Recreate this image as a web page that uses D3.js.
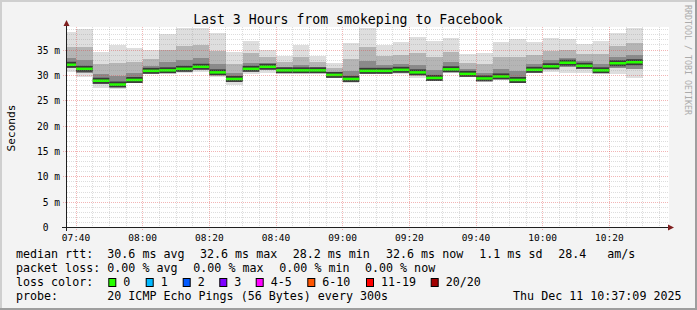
<!DOCTYPE html>
<html><head><meta charset="utf-8">
<script src="https://cdn.jsdelivr.net/npm/d3@7"></script>
<style>
html,body{margin:0;padding:0;background:#f3f3f3;}
svg{display:block;}
text{font-family:"DejaVu Sans Mono",monospace;white-space:pre;}
</style></head><body>
<svg id="chart" width="697" height="310"></svg>
<script>
// ---------- data ----------
const day = "2025-12-11";
const rangeStart = "07:37:09", rangeEnd = "10:37:09";
const binStarts = ["07:35","07:40","07:45","07:50","07:55","08:00","08:05","08:10","08:15","08:20",
  "08:25","08:30","08:35","08:40","08:45","08:50","08:55","09:00","09:05","09:10",
  "09:15","09:20","09:25","09:30","09:35","09:40","09:45","09:50","09:55","10:00",
  "10:05","10:10","10:15","10:20","10:25"];
const medianRtt = [32.1,31.3,28.95,28.2,29.1,30.9,31.0,31.3,31.7,30.6,
  29.3,31.3,31.7,31.0,31.0,31.0,30.1,29.3,30.9,30.9,
  31.1,30.6,29.5,31.2,30.3,29.4,29.8,29.1,31.1,31.8,
  32.5,31.9,31.0,32.4,32.6];
const smokeMax = [38.6,39.1,34.7,35.9,35.4,35.1,38.2,39.3,39.3,38.3,
  34.7,36.8,35.1,33.9,35.9,33.8,32.5,36.3,39.4,36.0,
  36.5,37.6,36.8,37.4,34.2,34.5,36.5,37.2,36.5,37.4,
  37.1,36.1,36.8,38.4,39.4];
const smokeUpper = [35.7,35.7,32.2,32.5,32.6,33.3,35.0,35.8,36.0,34.9,
  32.3,34.4,33.6,32.6,33.7,32.6,31.4,33.2,35.7,33.8,
  34.1,34.5,33.6,34.7,32.5,32.3,33.6,33.6,34.1,34.9,
  35.1,34.3,34.2,35.8,36.4];
const smokeInner = [33.5,33.0,30.2,29.9,30.5,31.8,32.6,33.1,33.4,32.3,
  30.5,32.5,32.4,31.6,32.1,31.6,30.6,30.8,32.8,32.0,
  32.3,32.1,31.1,32.6,31.2,30.5,31.3,30.9,32.3,33.0,
  33.5,32.8,32.3,33.7,34.1];
const smokeLower = [31.5,30.5,28.3,27.8,28.9,30.7,30.7,30.9,31.3,30.2,
  28.8,30.9,31.2,30.9,30.7,30.7,29.9,28.9,30.6,30.7,
  30.7,30.1,29.2,30.8,30.1,29.1,29.5,28.9,30.8,31.3,
  31.6,31.3,30.7,31.5,31.2];
const smokeMin = [30.7,29.6,27.5,27.3,28.6,30.4,30.4,30.4,30.7,29.6,
  28.1,30.3,30.5,30.7,30.4,30.4,29.6,28.5,30.3,30.4,
  30.3,29.5,28.8,30.4,29.8,28.8,29.1,28.6,30.5,30.7,
  30.5,30.5,30.4,30.3,29.4];
const yMax = 39.45;
const xTickLabels = ["07:40","08:00","08:20","08:40","09:00","09:20","09:40","10:00","10:20"];
const yTickValues = [0,5,10,15,20,25,30,35];
const yTickLabels = ["0  ","5 m","10 m","15 m","20 m","25 m","30 m","35 m"];
const titleText = "Last 3 Hours from smokeping to Facebook";
const yAxisTitle = "Seconds";
const rttLegend = [["median rtt:",16],["30.6 ms avg",107.3],["32.6 ms max",200],["28.2 ms min",292.7],["32.6 ms now",386],["1.1 ms sd",479.3],["28.4",558.3],["am/s",607.3]];
const lossLegend = [["packet loss:",16],["0.00 % avg",107.3],["0.00 % max",193.3],["0.00 % min",279.3],["0.00 % now",365]];
const lossLabels = ["0","1","2","3","4-5","6-10","11-19","20/20"];
const lossColors = ["#26ff00","#00b8ff","#0059ff","#7e00ff","#ff00ff","#ff5500","#ff0000","#a10000"];
const lossBoxX = [108.3,145.7,182.7,219.3,255.7,307.3,366,430.7];
const probeText = "20 ICMP Echo Pings (56 Bytes) every 300s";
const stampText = "Thu Dec 11 10:37:09 2025";
const watermark = "RRDTOOL / TOBI OETIKER";

// ---------- drawing ----------
const svg = d3.select("#chart");
const W = 697, H = 310;
const parse = d3.timeParse("%Y-%m-%d %H:%M:%S");
const pt = s => parse(day + " " + (s.length === 5 ? s + ":00" : s));
const x = d3.scaleTime().domain([pt(rangeStart), pt(rangeEnd)]).range([66.5, 666.5]);
const y = d3.scaleLinear().domain([0, yMax]).range([227.5, 27.5]);
const L = 67, R = 669, T = 27, B = 228;

svg.append("rect").attr("width", W).attr("height", H).attr("fill", "#f3f3f3");
// frame
svg.append("path").attr("d", `M0,0H${W}V2H2V${H}H0Z`).attr("fill", "#cfcfcf");
svg.append("path").attr("d", `M${W},0V${H}H0V${H-2}H${W-2}V0Z`).attr("fill", "#9e9e9e");

svg.append("rect").attr("x", L).attr("y", T).attr("width", R - L).attr("height", B - T).attr("fill", "#ffffff");

const defs = svg.append("defs");
defs.append("clipPath").attr("id", "plotclip").append("rect")
  .attr("x", L).attr("y", T - 3).attr("width", R - L).attr("height", B - T + 3);

const data = binStarts.map((s, i) => ({
  t0: pt(s), t1: d3.timeMinute.offset(pt(s), 5),
  med: medianRtt[i], max: smokeMax[i], up: smokeUpper[i], inn: smokeInner[i], lo: smokeLower[i], min: smokeMin[i]
}));

const gPlot = svg.append("g").attr("clip-path", "url(#plotclip)");
function band(cls, top, bot, color) {
  gPlot.selectAll("rect." + cls).data(data).join("rect").attr("class", cls)
    .attr("x", d => x(d.t0)).attr("width", d => x(d.t1) - x(d.t0))
    .attr("y", d => y(top(d))).attr("height", d => y(bot(d)) - y(top(d)))
    .attr("fill", color).attr("shape-rendering", "crispEdges");
}
band("s1", d => d.max, d => d.min, "#dedede");
band("s2", d => d.up, d => d.lo, "#b5b5b5");
band("s3", d => d.inn, d => d.lo, "#8a8a8a");
gPlot.selectAll("rect.core").data(data).join("rect").attr("class", "core")
  .attr("x", d => x(d.t0)).attr("width", d => x(d.t1) - x(d.t0))
  .attr("y", d => y(d.med) - 3).attr("height", 6).attr("fill", "#3a3a3a");
gPlot.selectAll("rect.med").data(data).join("rect").attr("class", "med")
  .attr("x", d => x(d.t0)).attr("width", d => x(d.t1) - x(d.t0))
  .attr("y", d => y(d.med) - 1.25).attr("height", 2.5).attr("fill", lossColors[0]);

// grid (on top, translucent)
const gGrid = svg.append("g");
const minorColor = "rgba(143,143,143,0.3)", majorColor = "rgba(222,60,60,0.38)";
const snap = v => Math.round(v - 0.5) + 0.5;
d3.range(1, 40).filter(v => v % 5 !== 0).forEach(v => {
  gGrid.append("line").attr("x1", L).attr("x2", R).attr("y1", snap(y(v))).attr("y2", snap(y(v)))
    .attr("stroke", minorColor).attr("stroke-dasharray", "1,1");
});
yTickValues.filter(v => v > 0).forEach(v => {
  gGrid.append("line").attr("x1", 63).attr("x2", R).attr("y1", snap(y(v))).attr("y2", snap(y(v)))
    .attr("stroke", majorColor).attr("stroke-dasharray", "1,1");
});
const minorTimes = x.ticks(d3.timeMinute.every(5));
minorTimes.forEach(t => {
  const isMajor = t.getMinutes() % 20 === 0;
  if (isMajor) return;
  gGrid.append("line").attr("x1", snap(x(t))).attr("x2", snap(x(t))).attr("y1", T).attr("y2", B + 1)
    .attr("stroke", minorColor).attr("stroke-dasharray", "1,1");
});
xTickLabels.forEach(s => {
  const xv = snap(x(pt(s)));
  gGrid.append("line").attr("x1", xv).attr("x2", xv).attr("y1", T).attr("y2", B + 3)
    .attr("stroke", majorColor).attr("stroke-dasharray", "1,1");
});

// axes
const axisColor = "#1f1f1f", arrowColor = "#7f1f1f";
svg.append("line").attr("x1", 62).attr("x2", 670).attr("y1", 227.5).attr("y2", 227.5).attr("stroke", axisColor);
svg.append("line").attr("x1", 66.5).attr("x2", 66.5).attr("y1", 231).attr("y2", 24).attr("stroke", axisColor);
svg.append("path").attr("d", "M668,224.5L674,227.5L668,230.5Z").attr("fill", arrowColor);
svg.append("path").attr("d", "M63.5,26L66.5,20L69.5,26Z").attr("fill", arrowColor);

// y tick labels
svg.selectAll("text.ytick").data(yTickValues).join("text").attr("class", "ytick")
  .attr("x", 60).attr("y", d => y(d) + 3.5).attr("text-anchor", "end")
  .attr("font-size", "9.6px").attr("fill", "#000").text((d, i) => yTickLabels[i]);
// x tick labels
svg.selectAll("text.xtick").data(xTickLabels).join("text").attr("class", "xtick")
  .attr("x", d => x(pt(d))).attr("y", 241).attr("text-anchor", "middle")
  .attr("font-size", "9.5px").attr("fill", "#000").text(d => d);

// title
svg.append("text").attr("x", 348).attr("y", 23.5).attr("text-anchor", "middle")
  .attr("font-size", "13.2px").attr("fill", "#000").text(titleText);
// y axis title
svg.append("text").attr("transform", "translate(14.5,128) rotate(-90)").attr("text-anchor", "middle")
  .attr("font-size", "11.1px").attr("fill", "#000").text(yAxisTitle);
// watermark
svg.append("text").attr("transform", "translate(684.5,5) rotate(90)")
  .attr("font-size", "8.3px").attr("fill", "#ababab").text(watermark);

// legend
const LF = "11.66px";
const rows = [258.3, 272.2, 286.1, 300];
rttLegend.forEach(([s, xx]) => svg.append("text").attr("x", xx).attr("y", rows[0]).attr("font-size", LF).text(s));
lossLegend.forEach(([s, xx]) => svg.append("text").attr("x", xx).attr("y", rows[1]).attr("font-size", LF).text(s));
svg.append("text").attr("x", 16).attr("y", rows[2]).attr("font-size", LF).text("loss color:");
lossLabels.forEach((s, i) => {
  svg.append("rect").attr("x", lossBoxX[i] + 0.5).attr("y", 278.5).attr("width", 7).attr("height", 8)
    .attr("fill", lossColors[i]).attr("stroke", "#000").attr("stroke-width", 1);
  svg.append("text").attr("x", lossBoxX[i] + 15).attr("y", rows[2]).attr("font-size", LF).text(s);
});
svg.append("text").attr("x", 16).attr("y", rows[3]).attr("font-size", LF).text("probe:");
svg.append("text").attr("x", 107.3).attr("y", rows[3]).attr("font-size", LF).text(probeText);
svg.append("text").attr("x", 681.5).attr("y", rows[3]).attr("text-anchor", "end").attr("font-size", LF).text(stampText);
</script>
</body></html>
